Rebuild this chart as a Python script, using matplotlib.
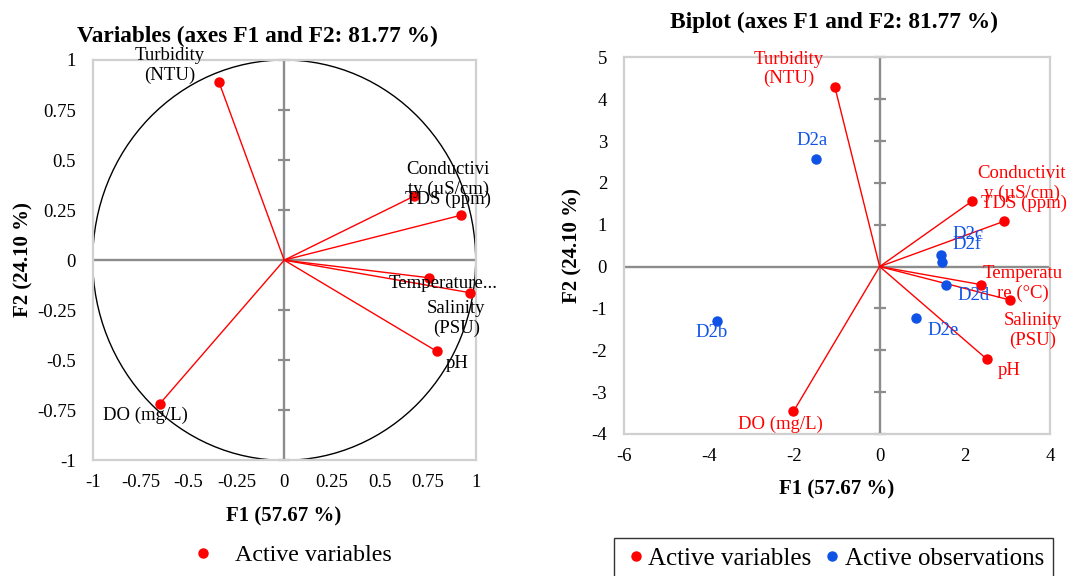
import numpy as np
import matplotlib
matplotlib.use("Agg")
import matplotlib.pyplot as plt
from matplotlib.patches import Circle
from matplotlib.lines import Line2D
from matplotlib.ticker import FuncFormatter

plt.rcParams['font.family'] = ['Liberation Serif', 'DejaVu Serif']
plt.rcParams['axes.unicode_minus'] = False

# ---- data -------------------------------------------------------------
var_names = ['Turbidity (NTU)', 'Conductivity (µS/cm)', 'TDS (ppm)',
             'Temperature (°C)', 'Salinity (PSU)', 'pH', 'DO (mg/L)']
var_labels_circle = ['Turbidity\n(NTU)', 'Conductivi\nty (µS/cm)', 'TDS (ppm)',
                     'Temperature...', 'Salinity\n(PSU)', 'pH', 'DO (mg/L)']
var_labels_biplot = ['Turbidity\n(NTU)', 'Conductivit\ny (µS/cm)', 'TDS (ppm)',
                     'Temperatu\nre (°C)', 'Salinity\n(PSU)', 'pH', 'DO (mg/L)']

# correlations of variables with factors
load_f1 = [-0.340, 0.679, 0.925, 0.756, 0.972, 0.796, -0.649]
load_f2 = [0.888, 0.320, 0.225, -0.088, -0.163, -0.455, -0.717]

# biplot coordinates of variables
bip_var_f1 = [-1.05, 2.16, 2.91, 2.37, 3.06, 2.51, -2.02]
bip_var_f2 = [4.29, 1.56, 1.08, -0.43, -0.80, -2.21, -3.46]

# observations
obs_names = ['D2a', 'D2b', 'D2c', 'D2d', 'D2e', 'D2f']
obs_f1 = [-1.49, -3.82, 1.44, 1.56, 0.85, 1.47]
obs_f2 = [2.57, -1.31, 0.28, -0.43, -1.23, 0.10]

circle_ticks = [-1, -0.75, -0.5, -0.25, 0, 0.25, 0.5, 0.75, 1]
biplot_xticks = [-6, -4, -2, 0, 2, 4]
biplot_yticks = [-4, -3, -2, -1, 0, 1, 2, 3, 4, 5]

title_circle = 'Variables (axes F1 and F2: 81.77 %)'
title_biplot = 'Biplot (axes F1 and F2: 81.77 %)'
xlabel = 'F1 (57.67 %)'
ylabel = 'F2 (24.10 %)'

# label offsets (pixels) from each point
off_circle = [(-49, 16.5), (34, 17), (-13, 15.7), (14, -5.5), (-14, -25.6), (21, -12.3), (-14, -11.7)]
off_bip_var = [(-46, 18), (50, 17.6), (20, 18), (42, 1), (22.4, -30.5), (22, -11.7), (-12.6, -13)]
off_obs = [(-4.3, 19), (-5, -11.4), (27, 20), (27.7, -11.3), (26.7, -12), (24.3, 18)]

RED = '#FF0000'
BLUE = '#0F52E6'
BORDER = '#D0D0D0'
ZERO = '#8C8C8C'

W, H = 1079, 576
fig = plt.figure(figsize=(W / 100, H / 100), dpi=100)


def px_rect(x0, y0, x1, y1):
    return [x0 / W, 1 - y1 / H, (x1 - x0) / W, (y1 - y0) / H]


fmt = FuncFormatter(lambda v, p: '%g' % v)


def style_axes(ax, xt, yt):
    ax.set_xticks(xt)
    ax.set_yticks(yt)
    ax.xaxis.set_major_formatter(fmt)
    ax.yaxis.set_major_formatter(fmt)
    ax.tick_params(length=0, labelsize=13.5, colors='black')
    ax.tick_params(axis='y', pad=12)
    ax.tick_params(axis='x', pad=10)
    for s in ax.spines.values():
        s.set_color(BORDER)
        s.set_linewidth(1.6)
    ax.axhline(0, color=ZERO, lw=1.7, zorder=1)
    ax.axvline(0, color=ZERO, lw=1.7, zorder=1)
    inner = [t for t in yt if t != 0]
    ax.plot(np.zeros(len(inner)), inner, ls='none', marker='_', markersize=8.4,
            markeredgewidth=1.6, color=ZERO, zorder=1, clip_on=False)


# ---- correlation circle ----------------------------------------------
ax1 = fig.add_axes(px_rect(92.7, 60, 475.7, 460.3))
ax1.set_xlim(-1, 1)
ax1.set_ylim(-1, 1)
style_axes(ax1, circle_ticks, circle_ticks)
ax1.add_patch(Circle((0, 0), 1, fill=False, edgecolor='black', lw=1.0, zorder=2))
for x, y, lab, off in zip(load_f1, load_f2, var_labels_circle, off_circle):
    ax1.plot([0, x], [0, y], color=RED, lw=1.0, zorder=3)
    ax1.plot(x, y, 'o', color=RED, markersize=6.5, zorder=4)
    ax1.annotate(lab, (x, y), xytext=off, textcoords='offset pixels',
                 ha='center', va='center', ma='center', fontsize=13.5,
                 color='black', zorder=5, annotation_clip=False)

fig.text(257 / W, 1 - 36 / H, title_circle, ha='center', va='center',
         fontsize=16.8, fontweight='bold')
fig.text(283.7 / W, 1 - 516 / H, xlabel, ha='center', va='center',
         fontsize=15, fontweight='bold')
fig.text(23.5 / W, 1 - 260 / H, ylabel, ha='center', va='center',
         rotation=90, fontsize=15, fontweight='bold')

# ---- biplot -----------------------------------------------------------
ax2 = fig.add_axes(px_rect(623.7, 57.3, 1050.3, 434))
ax2.set_xlim(-6, 4)
ax2.set_ylim(-4, 5)
style_axes(ax2, biplot_xticks, biplot_yticks)
for x, y, lab, off in zip(bip_var_f1, bip_var_f2, var_labels_biplot, off_bip_var):
    ax2.plot([0, x], [0, y], color=RED, lw=1.0, zorder=3)
    ax2.plot(x, y, 'o', color=RED, markersize=6.5, zorder=4)
    ax2.annotate(lab, (x, y), xytext=off, textcoords='offset pixels',
                 ha='center', va='center', ma='center', fontsize=13.5,
                 color=RED, zorder=5, annotation_clip=False)
ax2.plot(obs_f1, obs_f2, 'o', color=BLUE, markersize=6.5, ls='none', zorder=4)
for x, y, lab, off in zip(obs_f1, obs_f2, obs_names, off_obs):
    ax2.annotate(lab, (x, y), xytext=off, textcoords='offset pixels',
                 ha='center', va='center', fontsize=13.5,
                 color=BLUE, zorder=5, annotation_clip=False)

fig.text(833.8 / W, 1 - 22.7 / H, title_biplot, ha='center', va='center',
         fontsize=16.8, fontweight='bold')
fig.text(837 / W, 1 - 489.3 / H, xlabel, ha='center', va='center',
         fontsize=15, fontweight='bold')
fig.text(572 / W, 1 - 245.7 / H, ylabel, ha='center', va='center',
         rotation=90, fontsize=15, fontweight='bold')

# ---- legends ----------------------------------------------------------
h_var = Line2D([], [], ls='none', marker='o', color=RED, markersize=6.5,
               label='Active variables')
h_obs = Line2D([], [], ls='none', marker='o', color=BLUE, markersize=6.5,
               label='Active observations')

fig.legend(handles=[h_var], loc='center left',
           bbox_to_anchor=(191 / W, 1 - 555 / H), frameon=False,
           fontsize=17.3, handlelength=1.0, handletextpad=0.85, borderpad=0,
           borderaxespad=0)

leg2 = fig.legend(handles=[h_var, h_obs], loc='center left',
                  bbox_to_anchor=(614.3 / W, 1 - 558.3 / H), ncol=2,
                  frameon=True, fancybox=False, edgecolor='black',
                  fontsize=18, handlelength=1.0, handletextpad=0.0,
                  columnspacing=0.32, borderpad=0.36, borderaxespad=0)
leg2.get_frame().set_linewidth(1.0)

fig.savefig('out.png', dpi=100)
